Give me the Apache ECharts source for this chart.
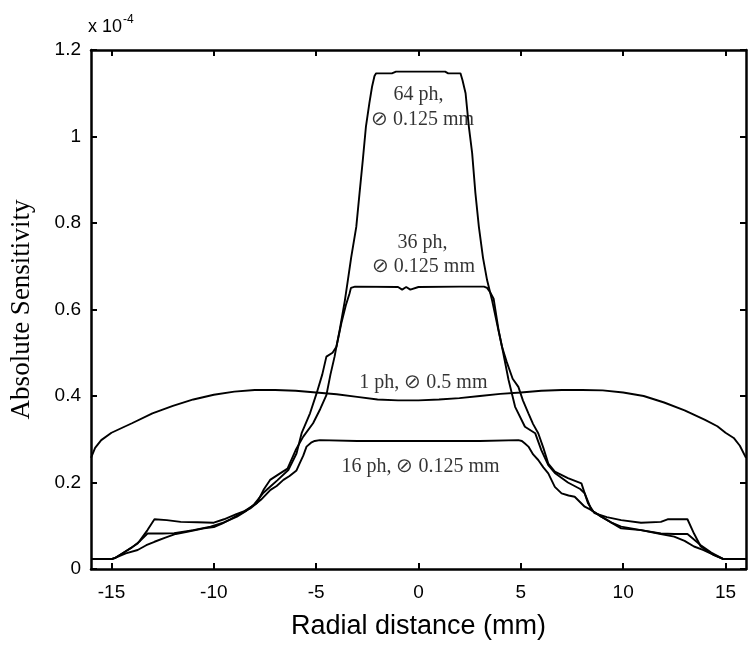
<!DOCTYPE html>
<html>
<head>
<meta charset="utf-8">
<script src="https://cdn.jsdelivr.net/npm/echarts@6/dist/echarts.min.js"></script>
<style>
  html, body { margin: 0; padding: 0; background: #fff; }
  #chart { width: 754px; height: 646px; }
</style>
</head>
<body>
<div id="chart"></div>
<script>
// sensitivity profiles, y in units of 1e-4
const ph64 = [
  [-16, 0.023], [-15, 0.023], [-14.8, 0.026], [-14.4, 0.038], [-14.0, 0.05], [-13.6, 0.065],
  [-13.24, 0.082], [-12.5, 0.082], [-11.94, 0.083], [-11, 0.09], [-10.16, 0.098], [-9.5, 0.108],
  [-8.87, 0.121], [-8.4, 0.135], [-8.06, 0.148], [-7.6, 0.175], [-7.25, 0.19], [-6.9, 0.205],
  [-6.36, 0.229], [-5.96, 0.267], [-5.71, 0.314], [-5.3, 0.36], [-4.98, 0.406], [-4.7, 0.45],
  [-4.5, 0.491], [-4.2, 0.5], [-4.01, 0.514], [-3.85, 0.553], [-3.6, 0.62], [-3.45, 0.668],
  [-3.29, 0.72], [-3.04, 0.791], [-2.88, 0.869], [-2.72, 0.946], [-2.57, 1.022], [-2.4, 1.077],
  [-2.27, 1.115], [-2.15, 1.14], [-2.07, 1.146], [-1.3, 1.146], [-1.1, 1.15], [1.3, 1.15],
  [1.45, 1.146], [2.05, 1.146], [2.15, 1.13], [2.3, 1.10], [2.46, 1.023], [2.62, 0.962],
  [2.78, 0.869], [2.95, 0.791], [3.15, 0.72], [3.35, 0.668], [3.6, 0.62], [3.9, 0.553],
  [4.08, 0.514], [4.4, 0.437], [4.72, 0.375], [5.2, 0.329], [5.7, 0.314], [6.0, 0.275],
  [6.34, 0.24], [6.66, 0.222], [7.3, 0.2], [7.9, 0.185], [8.12, 0.175], [8.45, 0.136],
  [8.93, 0.121], [9.9, 0.094], [10.87, 0.09], [11.84, 0.082], [12.5, 0.081], [13.14, 0.081],
  [13.46, 0.068], [13.79, 0.055], [14.3, 0.038], [14.9, 0.023], [16, 0.023]
];

const ph36 = [
  [-16, 0.023], [-15, 0.023], [-14.85, 0.025], [-14.2, 0.044], [-13.72, 0.059], [-13.24, 0.09],
  [-12.9, 0.115], [-12.3, 0.113], [-11.62, 0.109], [-10.8, 0.108], [-10, 0.107], [-9.5, 0.115],
  [-8.9, 0.127], [-8.54, 0.133], [-7.9, 0.152], [-7.57, 0.183], [-7.25, 0.206], [-6.8, 0.22],
  [-6.4, 0.232], [-6.0, 0.275], [-5.63, 0.306], [-5.15, 0.337], [-4.8, 0.37], [-4.5, 0.402],
  [-4.3, 0.45], [-4.1, 0.491], [-4.01, 0.514], [-3.77, 0.568], [-3.55, 0.61], [-3.37, 0.637],
  [-3.3, 0.65], [-3.1, 0.653], [-1.0, 0.652], [-0.8, 0.646], [-0.6, 0.652], [-0.4, 0.646],
  [0.0, 0.652], [2.0, 0.653], [3.2, 0.653], [3.35, 0.65], [3.5, 0.64], [3.67, 0.625],
  [3.91, 0.553], [4.08, 0.514], [4.3, 0.48], [4.6, 0.44], [4.88, 0.421], [5.1, 0.39],
  [5.37, 0.36], [5.6, 0.335], [5.85, 0.314], [6.1, 0.28], [6.34, 0.244], [6.66, 0.225],
  [7.3, 0.21], [7.96, 0.198], [8.28, 0.152], [8.6, 0.129], [9.2, 0.12], [9.9, 0.113],
  [10.87, 0.107], [11.84, 0.109], [12.17, 0.115], [13.14, 0.115], [13.46, 0.082],
  [13.79, 0.052], [14.43, 0.032], [14.9, 0.023], [16, 0.023]
];

const ph16 = [
  [-16, 0.023], [-15, 0.023], [-14.85, 0.025], [-14.3, 0.036], [-13.72, 0.044], [-13.3, 0.055],
  [-12.9, 0.063], [-12.4, 0.072], [-11.86, 0.081], [-11.3, 0.086], [-10.48, 0.094], [-10, 0.097],
  [-9.6, 0.105], [-9.19, 0.115], [-8.7, 0.128], [-8.22, 0.14], [-7.7, 0.16], [-7.23, 0.183],
  [-6.93, 0.192], [-6.6, 0.206], [-6.3, 0.215], [-5.96, 0.228], [-5.8, 0.245], [-5.63, 0.262],
  [-5.47, 0.283], [-5.25, 0.292], [-5.07, 0.296], [-4.82, 0.298], [-3, 0.296], [0, 0.296],
  [3, 0.296], [4.88, 0.298], [5.05, 0.296], [5.2, 0.29], [5.37, 0.283], [5.6, 0.265],
  [5.85, 0.252], [6.1, 0.235], [6.34, 0.221], [6.66, 0.19], [6.99, 0.175], [7.33, 0.17],
  [7.63, 0.167], [8.12, 0.144], [8.45, 0.136], [8.93, 0.121], [9.4, 0.108], [9.9, 0.098],
  [10.87, 0.09], [11.84, 0.081], [12.49, 0.075], [13.0, 0.065], [13.46, 0.052], [13.9, 0.044],
  [14.27, 0.036], [14.9, 0.023], [16, 0.023]
];

const ph1 = [
  [-16, 0.257], [-15.8, 0.28], [-15.5, 0.298], [-15, 0.315], [-14, 0.337], [-13, 0.36],
  [-12, 0.377], [-11, 0.392], [-10, 0.403], [-9, 0.41], [-8, 0.414], [-7, 0.414], [-6, 0.412],
  [-5, 0.408], [-4, 0.404], [-3, 0.398], [-2, 0.392], [-1, 0.39], [0, 0.39], [1, 0.392],
  [2, 0.395], [3, 0.4], [4, 0.405], [5, 0.408], [6, 0.412], [7, 0.414], [8, 0.414],
  [9, 0.413], [10, 0.408], [11, 0.4], [12, 0.385], [13, 0.367], [14, 0.345], [14.6, 0.33],
  [15, 0.315], [15.4, 0.303], [15.7, 0.285], [16, 0.257]
];

const xTicks = [-15, -10, -5, 0, 5, 10, 15];
const curveLabels = [
  [0.0, 1.096, '64 ph,'],
  [0.2, 1.038, '\u2298 0.125 mm'],
  [0.2, 0.754, '36 ph,'],
  [0.24, 0.698, '\u2298 0.125 mm'],
  [0.24, 0.43, '1 ph, \u2298 0.5 mm'],
  [0.1, 0.236, '16 ph, \u2298 0.125 mm']
];

const chart = echarts.init(document.getElementById('chart'));

const lineSeries = (data) => ({
  type: 'line',
  data: data,
  showSymbol: false,
  silent: true,
  lineStyle: { color: '#000', width: 1.9 },
  z: 3
});

const axisLineStyle = { color: '#000', width: 2.5 };
const tickStyle = { color: '#000', width: 2 };

const option = {
  backgroundColor: '#fff',
  animation: false,
  grid: { left: 87, right: 8, top: 50, bottom: 77 },
  xAxis: [
    {
      type: 'value', min: -16, max: 16, position: 'bottom',
      axisLine: { onZero: false, lineStyle: axisLineStyle },
      axisTick: { inside: true, length: 6, customValues: xTicks, lineStyle: tickStyle },
      axisLabel: {
        customValues: xTicks, color: '#000', fontSize: 19, margin: 14,
        fontFamily: 'Liberation Sans'
      },
      splitLine: { show: false },
      name: 'Radial distance (mm)', nameLocation: 'middle', nameGap: 44,
      nameTextStyle: { color: '#000', fontSize: 27, fontFamily: 'Liberation Sans' }
    },
    {
      type: 'value', min: -16, max: 16, position: 'top',
      axisLine: { onZero: false, lineStyle: axisLineStyle },
      axisTick: { inside: true, length: 6, customValues: xTicks, lineStyle: tickStyle },
      axisLabel: { show: false },
      splitLine: { show: false }
    }
  ],
  yAxis: [
    {
      type: 'value', min: 0, max: 1.2, interval: 0.2, position: 'left',
      axisLine: { show: true, onZero: false, lineStyle: axisLineStyle },
      axisTick: { show: true, inside: true, length: 6, lineStyle: tickStyle },
      axisLabel: {
        color: '#000', fontSize: 19, margin: 10, fontFamily: 'Liberation Sans',
        formatter: (v) => (v === 0 ? '0' : String(+v.toFixed(1)))
      },
      splitLine: { show: false },
      name: 'Absolute Sensitivity', nameLocation: 'middle', nameGap: 56,
      nameTextStyle: { color: '#000', fontSize: 27, fontFamily: 'Liberation Serif' }
    },
    {
      type: 'value', min: 0, max: 1.2, interval: 0.2, position: 'right',
      axisLine: { show: true, onZero: false, lineStyle: axisLineStyle },
      axisTick: { show: true, inside: true, length: 6, lineStyle: tickStyle },
      axisLabel: { show: false },
      splitLine: { show: false }
    }
  ],
  graphic: [
    {
      type: 'text', left: 88, top: 14,
      style: {
        text: '{b|x 10}{s|-4}',
        rich: {
          b: { fontSize: 18, fontFamily: 'Liberation Sans', fill: '#000', verticalAlign: 'bottom' },
          s: { fontSize: 12, fontFamily: 'Liberation Sans', fill: '#000', verticalAlign: 'top', padding: [0, 0, 10, 1] }
        }
      }
    }
  ],
  series: [
    lineSeries(ph64),
    lineSeries(ph36),
    lineSeries(ph16),
    lineSeries(ph1),
    {
      type: 'scatter',
      data: curveLabels,
      symbolSize: 0,
      silent: true,
      z: 5,
      itemStyle: { color: 'transparent' },
      label: {
        show: true,
        position: 'inside',
        formatter: (p) => p.data[2],
        color: '#000',
        textBorderWidth: 0,
        fontSize: 20,
        fontFamily: 'Liberation Serif'
      }
    }
  ]
};

chart.setOption(option);
</script>
</body>
</html>
